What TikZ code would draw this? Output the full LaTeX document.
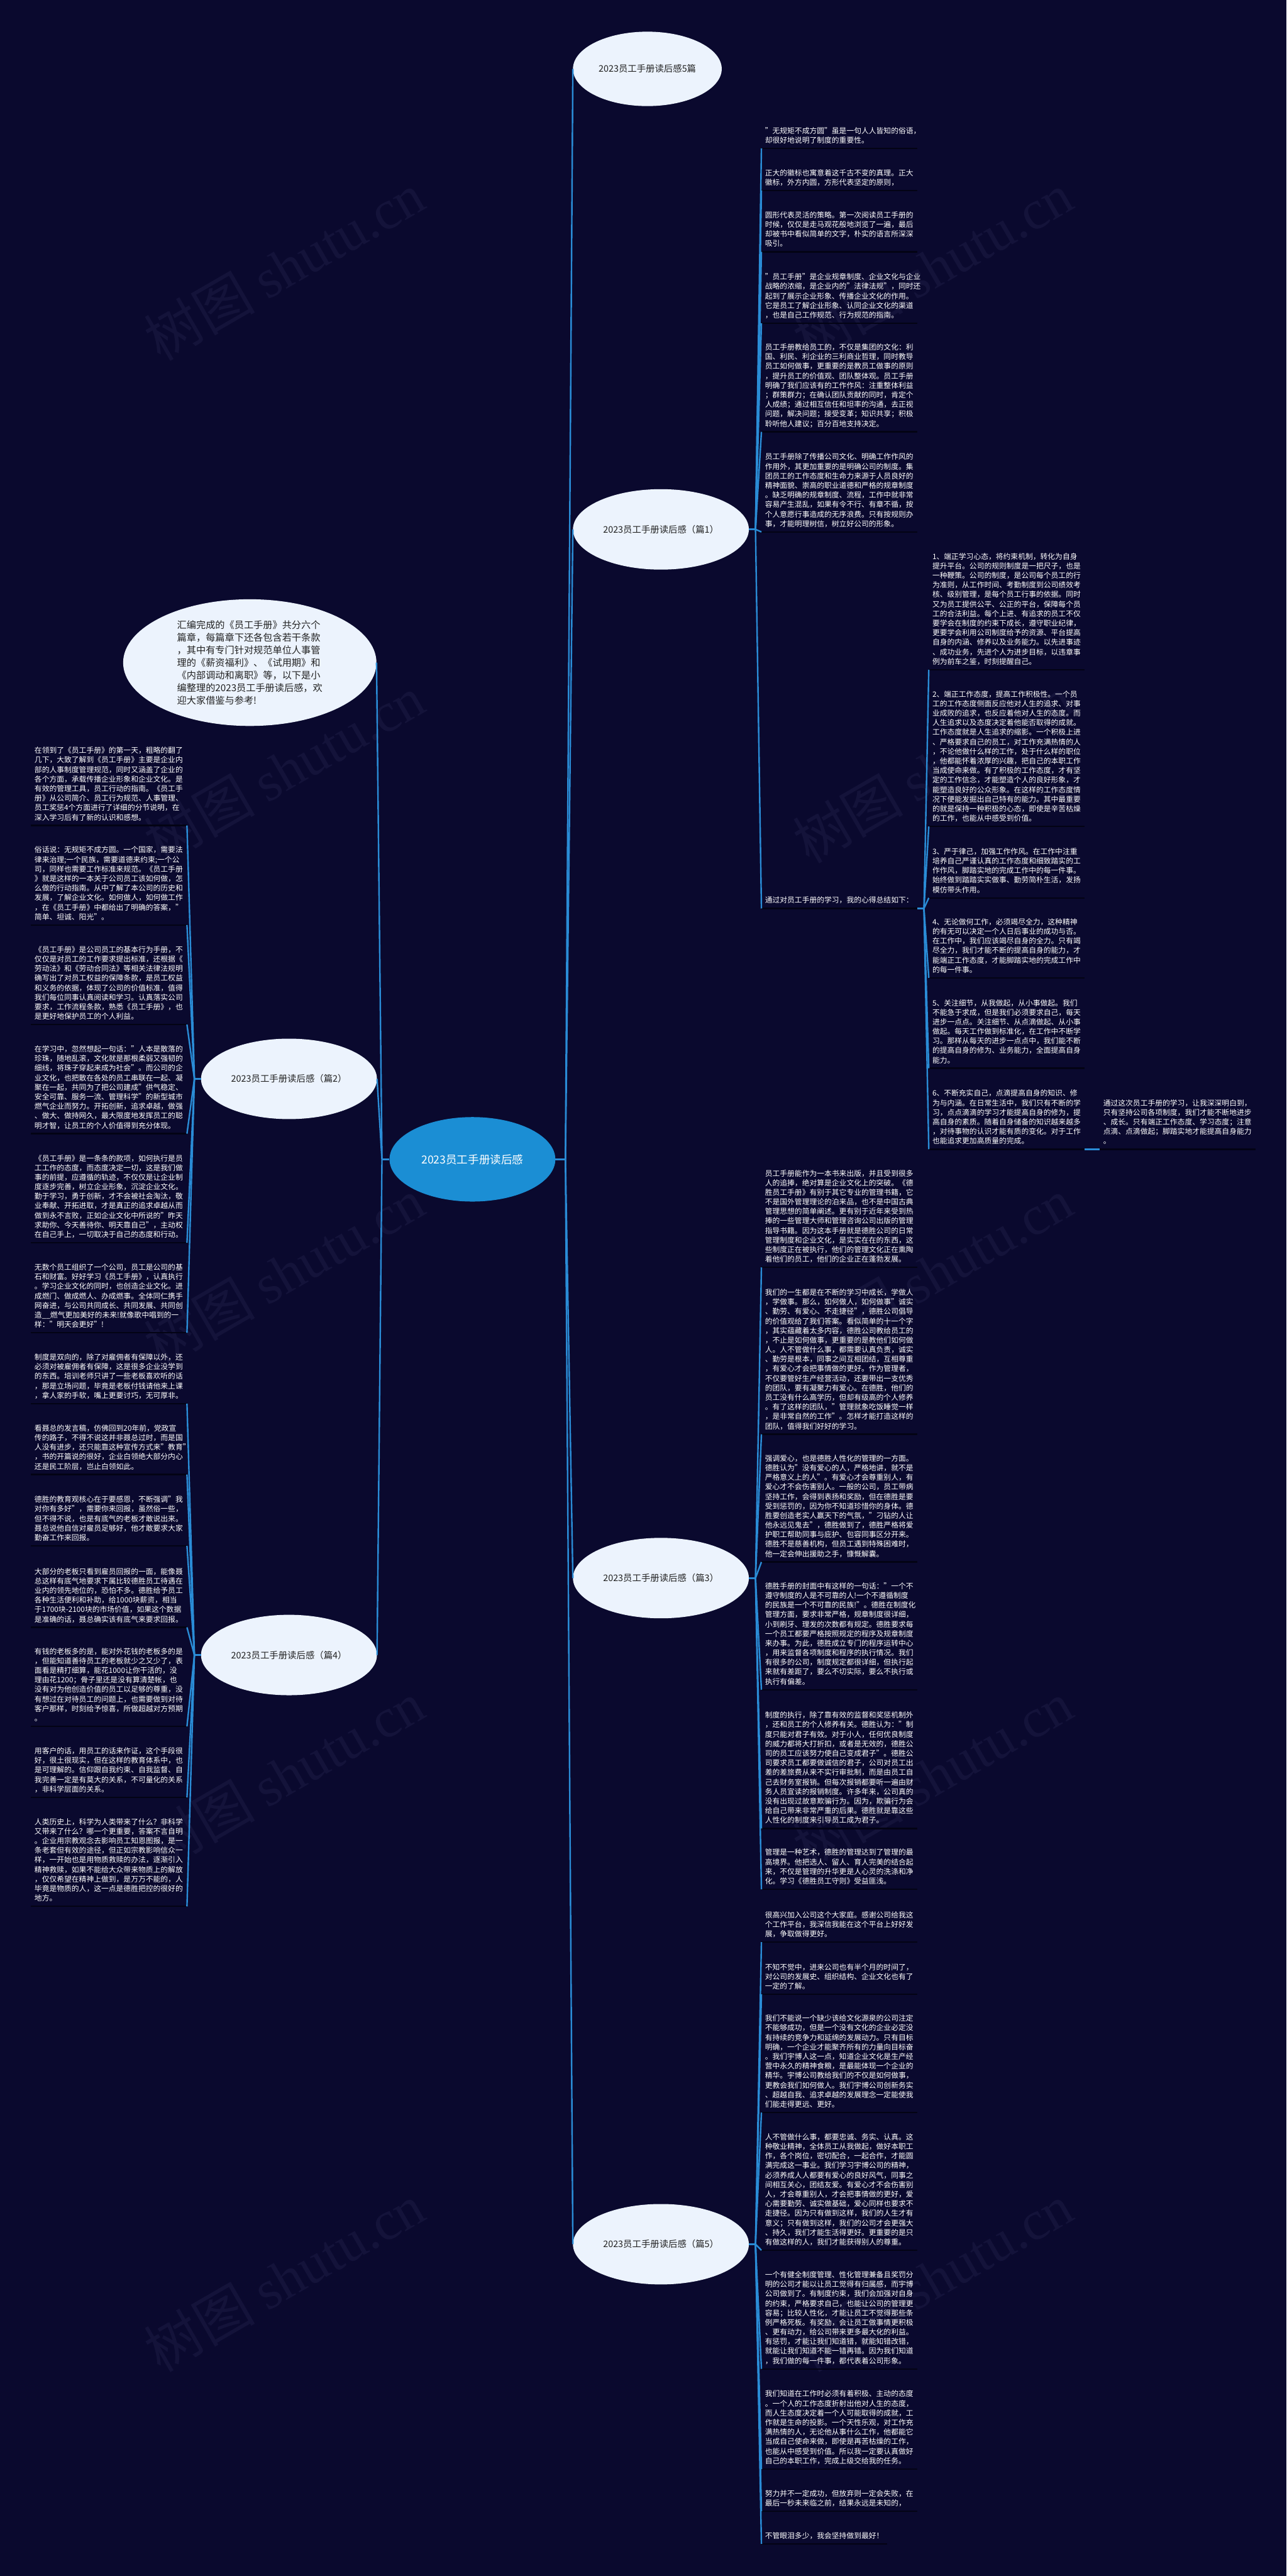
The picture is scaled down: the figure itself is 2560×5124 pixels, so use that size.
\documentclass[tikz,border=0pt]{standalone}
\usepackage{fontspec}
\setmainfont{Noto Sans CJK SC}
\newfontfamily\wmlatin{Liberation Serif}
\usetikzlibrary{shapes.geometric}
\definecolor{bgc}{RGB}{10,9,46}
\definecolor{connc}{RGB}{42,140,214}
\definecolor{ulc}{RGB}{3,3,20}
\definecolor{ellfill}{RGB}{236,243,253}
\definecolor{rootfill}{RGB}{27,142,212}
\definecolor{wmc}{RGB}{20,19,58}
\definecolor{darktext}{RGB}{34,34,34}
\newcommand{\ldep}{\rule[-10.5pt]{0pt}{10.5pt}}
\tikzset{
  leafbase/.style={text=white, font=\fontsize{14.75pt}{19pt}\selectfont, align=left, inner xsep=7pt, inner ysep=0pt},
  leaf/.style={leafbase, text width=296pt},
  rleaf/.style={leaf, anchor=south west},
  lleaf/.style={leaf, anchor=south east},
  topic/.style={ellipse, fill=ellfill, text=darktext, font=\fontsize{18pt}{22pt}\selectfont, inner sep=0pt, minimum width=350pt, minimum height=160pt},
  rootnode/.style={ellipse, fill=rootfill, text=white, font=\fontsize{22pt}{26pt}\selectfont, inner sep=0pt, minimum width=330pt, minimum height=168pt},
  connst/.style={draw=connc, line width=3pt, line join=round},
  uline/.style={draw=ulc, line width=3pt},
  wm/.style={text=wmc, font=\fontsize{110pt}{110pt}\selectfont, rotate=30, anchor=base west, inner sep=0pt},
}
\newcommand{\rleafat}[3]{\node[rleaf] (#1) at (#2) {#3\ldep};\draw[uline] (#1.south west) -- (#1.south east);}
\newcommand{\lleafat}[3]{\node[lleaf] (#1) at (#2) {#3\ldep};\draw[uline] (#1.south west) -- (#1.south east);}
\begin{document}
\begin{tikzpicture}[x=1pt,y=-1pt]
\fill[bgc] (0,0) rectangle (2560,5124);
\useasboundingbox (0,0) rectangle (2560,5124);

% watermarks
\foreach \k [count=\i] in {0,...,4} {
  \node[wm] (wml\i) at (320,720+1000*\k) {树图 {\wmlatin shutu.cn}};
  \node[wm] (wmr\i) at (1610,720+1000*\k) {树图 {\wmlatin shutu.cn}};
}

% main nodes
\node[rootnode] (root) at (940,2306) {2023员工手册读后感};
\node[topic, minimum width=296pt, minimum height=148pt] (five) at (1288,137) {2023员工手册读后感5篇};
\node[topic] (p1) at (1315,1053) {2023员工手册读后感（篇1）};
\node[topic] (p3) at (1315,3139) {2023员工手册读后感（篇3）};
\node[topic] (p5) at (1315,4464) {2023员工手册读后感（篇5）};
\node[topic] (p2) at (575,2146) {2023员工手册读后感（篇2）};
\node[topic] (p4) at (575,3292) {2023员工手册读后感（篇4）};
\node[ellipse, fill=ellfill, text=darktext, font=\fontsize{19pt}{25pt}\selectfont, align=left, inner sep=0pt, minimum width=504pt, minimum height=252pt] (intro) at (497,1318) {汇编完成的《员工手册》共分六个\\篇章，每篇章下还各包含若干条款\\，其中有专门针对规范单位人事管\\理的《薪资福利》、《试用期》和\\《内部调动和离职》等，以下是小\\编整理的2023员工手册读后感，欢\\迎大家借鉴与参考!};

% 篇1 leaves
\rleafat{l1a}{1515,295}{"无规矩不成方圆"虽是一句人人皆知的俗语，\\却很好地说明了制度的重要性。}
\rleafat{l1b}{1515,379}{正大的徽标也寓意着这千古不变的真理。正大\\徽标，外方内圆，方形代表坚定的原则，}
\rleafat{l1c}{1515,501}{圆形代表灵活的策略。第一次阅读员工手册的\\时候，仅仅是走马观花般地浏览了一遍，最后\\却被书中看似简单的文字，朴实的语言所深深\\吸引。}
\rleafat{l1d}{1515,643}{"员工手册"是企业规章制度、企业文化与企业\\战略的浓缩，是企业内的"法律法规"，同时还\\起到了展示企业形象、传播企业文化的作用。\\它是员工了解企业形象、认同企业文化的渠道\\，也是自己工作规范、行为规范的指南。}
\rleafat{l1e}{1515,859}{员工手册教给员工的，不仅是集团的文化：利\\国、利民、利企业的三利商业哲理，同时教导\\员工如何做事，更重要的是教员工做事的原则\\，提升员工的价值观、团队整体观。员工手册\\明确了我们应该有的工作作风：注重整体利益\\；群策群力；在确认团队贡献的同时，肯定个\\人成绩；通过相互信任和坦率的沟通，去正视\\问题，解决问题；接受变革；知识共享；积极\\聆听他人建议；百分百地支持决定。}
\rleafat{l1f}{1515,1058}{员工手册除了传播公司文化、明确工作作风的\\作用外，其更加重要的是明确公司的制度。集\\团员工的工作态度和生命力来源于人员良好的\\精神面貌、崇高的职业道德和严格的规章制度\\。缺乏明确的规章制度、流程，工作中就非常\\容易产生混乱，如果有令不行、有章不循，按\\个人意愿行事造成的无序浪费。只有按规则办\\事，才能明理树信，树立好公司的形象。}
\rleafat{l1g}{1515,1807}{通过对员工手册的学习，我的心得总结如下：}

\rleafat{c1}{1848,1332}{1、端正学习心态，将约束机制，转化为自身\\提升平台。公司的规则制度是一把尺子，也是\\一种鞭策。公司的制度，是公司每个员工的行\\为准则，从工作时间、考勤制度到公司绩效考\\核、级别管理，是每个员工行事的依据。同时\\又为员工提供公平、公正的平台，保障每个员\\工的合法利益。每个上进、有追求的员工不仅\\要学会在制度的约束下成长，遵守职业纪律，\\更要学会利用公司制度给予的资源、平台提高\\自身的内涵、修养以及业务能力。以先进事迹\\、成功业务，先进个人为进步目标，以违章事\\例为前车之鉴，时刻提醒自己。}
\rleafat{c2}{1848,1644}{2、端正工作态度，提高工作积极性。一个员\\工的工作态度侧面反应他对人生的追求、对事\\业成败的追求，也反应着他对人生的态度。而\\人生追求以及态度决定着他能否取得的成就。\\工作态度就是人生追求的缩影。一个积极上进\\、严格要求自己的员工，对工作充满热情的人\\，不论他做什么样的工作，处于什么样的职位\\，他都能怀着浓厚的兴趣，把自己的本职工作\\当成使命来做。有了积极的工作态度，才有坚\\定的工作信念，才能塑造个人的良好形象，才\\能塑造良好的公众形象。在这样的工作态度情\\况下便能发掘出自己特有的能力。其中最重要\\的就是保持一种积极的心态，即使是辛苦枯燥\\的工作，也能从中感受到价值。}
\rleafat{c3}{1848,1786}{3、严于律己，加强工作作风。在工作中注重\\培养自己严谨认真的工作态度和细致踏实的工\\作作风，脚踏实地的完成工作中的每一件事。\\始终做到踏踏实实做事、勤劳简朴生活，发扬\\模仿带头作用。}
\rleafat{c4}{1848,1945}{4、无论做何工作，必须竭尽全力，这种精神\\的有无可以决定一个人日后事业的成功与否。\\在工作中，我们应该竭尽自身的全力。只有竭\\尽全力，我们才能不断的提高自身的能力，才\\能端正工作态度，才能脚踏实地的完成工作中\\的每一件事。}
\rleafat{c5}{1848,2125}{5、关注细节，从我做起，从小事做起。我们\\不能急于求成，但是我们必须要求自己，每天\\进步一点点。关注细节、从点滴做起、从小事\\做起。每天工作做到标准化，在工作中不断学\\习。那样从每天的进步一点点中，我们能不断\\的提高自身的修为、业务能力，全面提高自身\\能力。}
\rleafat{c6}{1848,2286}{6、不断充实自己，点滴提高自身的知识、修\\为与内涵。在日常生活中，我们只有不断的学\\习，点点滴滴的学习才能提高自身的修为，提\\高自身的素质。随着自身储备的知识越来越多\\，对待事物的认识才能有质的变化。对于工作\\也能追求更加高质量的完成。}
\rleafat{c7}{2188,2286}{通过这次员工手册的学习，让我深深明白到，\\只有坚持公司各项制度，我们才能不断地进步\\、成长。只有端正工作态度、学习态度；注意\\点滴、点滴做起；脚踏实地才能提高自身能力\\。}

% 篇3 leaves
\rleafat{t1}{1515,2521}{员工手册能作为一本书来出版，并且受到很多\\人的追捧，绝对算是企业文化上的突破。《德\\胜员工手册》有别于其它专业的管理书籍，它\\不是国外管理理论的泊来品，也不是中国古典\\管理思想的简单阐述。更有别于近年来受到热\\捧的一些管理大师和管理咨询公司出版的管理\\指导书籍。因为这本手册就是德胜公司的日常\\管理制度和企业文化，是实实在在的东西，这\\些制度正在被执行，他们的管理文化正在熏陶\\着他们的员工，他们的企业正在蓬勃发展。}
\rleafat{t2}{1515,2853}{我们的一生都是在不断的学习中成长，学做人\\，学做事。那么，如何做人，如何做事"诚实\\、勤劳、有爱心、不走捷径"，德胜公司倡导\\的价值观给了我们答案。看似简单的十一个字\\，其实蕴藏着太多内容，德胜公司教给员工的\\，不止是如何做事，更重要的是教他们如何做\\人。人不管做什么事，都需要认真负责，诚实\\、勤劳是根本，同事之间互相团结，互相尊重\\，有爱心才会把事情做的更好。作为管理者，\\不仅要管好生产经营活动，还要带出一支优秀\\的团队，要有凝聚力有爱心。在德胜，他们的\\员工没有什么高学历，但却有级高的个人修养\\。有了这样的团队，"管理就象吃饭睡觉一样\\，是非常自然的工作"。怎样才能打造这样的\\团队，值得我们好好的学习。}
\rleafat{t3}{1515,3107}{强调爱心，也是德胜人性化的管理的一方面。\\德胜认为"没有爱心的人，严格地讲，就不是\\严格意义上的人"。有爱心才会尊重别人，有\\爱心才不会伤害别人。一般的公司，员工带病\\坚持工作，会得到表扬和奖励，但在德胜是要\\受到惩罚的，因为你不知道珍惜你的身体。德\\胜要创造老实人赢天下的气氛，"刁钻的人让\\他永远见鬼去"，德胜做到了，德胜严格将爱\\护职工帮助同事与庇护、包容同事区分开来。\\德胜不是慈善机构，但员工遇到特殊困难时，\\他一定会伸出援助之手，慷慨解囊。}
\rleafat{t4}{1515,3361}{德胜手册的封面中有这样的一句话："一个不\\遵守制度的人是不可靠的人!一个不遵循制度\\的民族是一个不可靠的民族!"。德胜在制度化\\管理方面，要求非常严格，规章制度很详细，\\小到刷牙、理发的次数都有规定。德胜要求每\\一个员工都要严格按照规定的程序及规章制度\\来办事。为此，德胜成立专门的程序运转中心\\，用来监督各项制度和程序的执行情况。我们\\有很多的公司，制度规定都很详细，但执行起\\来就有差距了，要么不切实际，要么不执行或\\执行有偏差。}
\rleafat{t5}{1515,3637}{制度的执行，除了靠有效的监督和奖惩机制外\\，还和员工的个人修养有关。德胜认为："制\\度只能对君子有效。对于小人，任何优良制度\\的威力都将大打折扣，或者是无效的，德胜公\\司的员工应该努力使自己变成君子"。德胜公\\司要求员工都要做诚信的君子，公司对员工出\\差的差旅费从来不实行审批制，而是由员工自\\己去财务室报销。但每次报销都要听一遍由财\\务人员宣读的报销制度。许多年来，公司真的\\没有出现过故意欺骗行为。因为，欺骗行为会\\给自己带来非常严重的后果。德胜就是靠这些\\人性化的制度来引导员工成为君子。}
\rleafat{t6}{1515,3758}{管理是一种艺术，德胜的管理达到了管理的最\\高境界。他把选人、留人、育人完美的结合起\\来，不仅是管理的升华更是人心灵的洗涤和净\\化。学习《德胜员工守则》受益匪浅。}

% 篇5 leaves
\rleafat{f1}{1515,3863}{很高兴加入公司这个大家庭。感谢公司给我这\\个工作平台，我深信我能在这个平台上好好发\\展，争取做得更好。}
\rleafat{f2}{1515,3967}{不知不觉中，进来公司也有半个月的时间了，\\对公司的发展史、组织结构、企业文化也有了\\一定的了解。}
\rleafat{f3}{1515,4202}{我们不能说一个缺少该给文化源泉的公司注定\\不能够成功，但是一个没有文化的企业必定没\\有持续的竞争力和延绵的发展动力。只有目标\\明确，一个企业才能聚齐所有的力量向目标奋\\。我们宇博人这一点，知道企业文化是生产经\\营中永久的精神食粮，是最能体现一个企业的\\精华。宇博公司教给我们的不仅是如何做事，\\更教会我们如何做人。我们宇博公司创新务实\\、超越自我、追求卓越的发展理念一定能使我\\们能走得更远、更好。}
\rleafat{f4}{1515,4476}{人不管做什么事，都要忠诚、务实、认真。这\\种敬业精神，全体员工从我做起，做好本职工\\作，各个岗位，密切配合，一起合作，才能圆\\满完成这一事业。我们学习宇博公司的精神，\\必须养成人人都要有爱心的良好风气，同事之\\间相互关心，团结友爱。有爱心才不会伤害别\\人，才会尊重别人，才会把事情做的更好，爱\\心需要勤劳、诚实做基础，爱心同样也要求不\\走捷径。因为只有做到这样，我们的人生才有\\意义；只有做到这样，我们的公司才会更强大\\、持久，我们才能生活得更好。更重要的是只\\有做这样的人，我们才能获得别人的尊重。}
\rleafat{f5}{1515,4712}{一个有健全制度管理、性化管理兼备且奖罚分\\明的公司才能以让员工觉得有归属感，而宇博\\公司做到了。有制度约束，我们会加强对自身\\的约束，严格要求自己，也能让公司的管理更\\容易；比较人性化，才能让员工不觉得那些条\\例严格死板。有奖励，会让员工做事情更积极\\、更有动力，给公司带来更多最大化的利益。\\有惩罚，才能让我们知道错，就能知错改错，\\就能让我们知道不能一错再错。因为我们知道\\，我们做的每一件事，都代表着公司形象。}
\rleafat{f6}{1515,4911}{我们知道在工作时必须有着积极、主动的态度\\。一个人的工作态度折射出他对人生的态度，\\而人生态度决定着一个人可能取得的成就，工\\作就是生命的投影。一个天性乐观，对工作充\\满热情的人，无论他从事什么工作，他都能它\\当成自己使命来做，即使是再苦枯燥的工作，\\也能从中感受到价值。所以我一定要认真做好\\自己的本职工作，完成上级交给我的任务。}
\rleafat{f7}{1515,4995}{努力并不一定成功，但放弃则一定会失败，在\\最后一秒未来临之前，结果永远是未知的，}
\node[leafbase, anchor=south west] (f8) at (1515,5060) {不管眼泪多少，我会坚持做到最好！\ldep};
\draw[uline] (f8.south west) -- (f8.south east);

% 篇2 leaves
\lleafat{b1}{372,1642}{在领到了《员工手册》的第一天，粗略的翻了\\几下，大致了解到《员工手册》主要是企业内\\部的人事制度管理规范，同时又涵盖了企业的\\各个方面，承载传播企业形象和企业文化。是\\有效的管理工具，员工行动的指南。《员工手\\册》从公司简介、员工行为规范、人事管理、\\员工奖惩4个方面进行了详细的分节说明，在\\深入学习后有了新的认识和感想。}
\lleafat{b2}{372,1840}{俗话说：无规矩不成方圆。一个国家，需要法\\律来治理;一个民族，需要道德来约束;一个公\\司，同样也需要工作标准来规范。《员工手册\\》就是这样的一本关于公司员工该如何做，怎\\么做的行动指南。从中了解了本公司的历史和\\发展，了解企业文化。如何做人，如何做工作\\，在《员工手册》中都给出了明确的答案，"\\简单、坦诚、阳光"。}
\lleafat{b3}{372,2038}{《员工手册》是公司员工的基本行为手册，不\\仅仅是对员工的工作要求提出标准，还根据《\\劳动法》和《劳动合同法》等相关法律法规明\\确写出了对员工权益的保障条款，是员工权益\\和义务的依据，体现了公司的价值标准，值得\\我们每位同事认真阅读和学习。认真落实公司\\要求，工作流程条款，熟悉《员工手册》，也\\是更好地保护员工的个人利益。}
\lleafat{b4}{372,2255}{在学习中，忽然想起一句话："人本是散落的\\珍珠，随地乱滚，文化就是那根柔弱又强韧的\\细线，将珠子穿起来成为社会"。而公司的企\\业文化，也把散在各处的员工串联在一起、凝\\聚在一起，共同为了把公司建成"供气稳定、\\安全可靠、服务一流、管理科学"的新型城市\\燃气企业而努力。开拓创新，追求卓越，做强\\、做大、做持网久，最大限度地发挥员工的聪\\明才智，让员工的个人价值得到充分体现。}
\lleafat{b5}{372,2472}{《员工手册》是一条条的款项，如何执行是员\\工工作的态度，而态度决定一切，这是我们做\\事的前提，应遵循的轨迹，不仅仅是让企业制\\度逐步完善，树立企业形象，沉淀企业文化。\\勤于学习，勇于创新，才不会被社会淘汰，敬\\业奉献、开拓进取，才是真正的追求卓越从而\\做到永不言败，正如企业文化中所说的"昨天\\求助你、今天善待你、明天靠自己"，主动权\\在自己手上，一切取决于自己的态度和行动。}
\lleafat{b6}{372,2651}{无数个员工组织了一个公司，员工是公司的基\\石和财富。好好学习《员工手册》，认真执行\\。学习企业文化的同时，也创造企业文化。进\\成燃门、做成燃人、办成燃事。全体同仁携手\\网奋进，与公司共同成长、共同发展、共同创\\造\_\_燃气更加美好的未来!就像歌中唱到的一\\样："明天会更好"!}

% 篇4 leaves
\lleafat{b7}{372,2792}{制度是双向的，除了对雇佣者有保障以外，还\\必须对被雇佣者有保障，这是很多企业没学到\\的东西。培训老师只讲了一些老板喜欢听的话\\，那是立场问题，毕竟是老板付钱请他来上课\\，拿人家的手软，嘴上更要讨巧，无可厚非。}
\lleafat{b8}{372,2933}{看聂总的发言稿，仿佛回到20年前，党政宣\\传的路子，不得不说这并非聂总过时，而是国\\人没有进步，还只能靠这种宣传方式来"教育"\\，书的开篇说的很好，企业白领绝大部分内心\\还是民工阶层，岂止白领如此。}
\lleafat{b9}{372,3075}{德胜的教育观核心在于要感恩，不断强调"我\\对你有多好"，需要你来回报，虽然俗一些，\\但不得不说，也是有底气的老板才敢说出来。\\聂总说他自信对雇员足够好，他才敢要求大家\\勤奋工作来回报。}
\lleafat{b10}{372,3237}{大部分的老板只看到雇员回报的一面，能像聂\\总这样有底气地要求下属比较德胜员工待遇在\\业内的领先地位的，恐怕不多。德胜给予员工\\各种生活便利和补助，给1000块薪资，相当\\于1700块-2100块的市场价值，如果这个数据\\是准确的话，聂总确实该有底气来要求回报。}
\lleafat{b11}{372,3434}{有钱的老板多的是，能对外花钱的老板多的是\\，但能知道善待员工的老板就少之又少了，表\\面看是精打细算，能花1000让你干活的，没\\理由花1200；骨子里还是没有算清楚帐，也\\没有对为他创造价值的员工以足够的尊重，没\\有想过在对待员工的问题上，也需要做到对待\\客户那样，时刻给予惊喜，所做超越对方预期\\。}
\lleafat{b12}{372,3575}{用客户的话，用员工的话来作证，这个手段很\\好，很土很现实，但在这样的教育体系中，也\\是可理解的。信仰跟自我约束、自我监督、自\\我完善一定是有莫大的关系，不可量化的关系\\，非科学层面的关系。}
\lleafat{b13}{372,3792}{人类历史上，科学为人类带来了什么？非科学\\又带来了什么？哪一个更重要，答案不言自明\\。企业用宗教观念去影响员工知恩图报，是一\\条老套但有效的途径，但正如宗教影响信众一\\样，一开始也是用物质救赎的办法，逐渐引入\\精神救赎，如果不能给大众带来物质上的解放\\，仅仅希望在精神上做到，是万万不能的，人\\毕竟是物质的人，这一点是德胜把控的很好的\\地方。}

% connectors
\coordinate (jr) at (1125,2306);
\coordinate (jl) at (760,2306);
\draw[connst] (root.east) -- (jr);
\draw[connst] (root.west) -- (jl);
\foreach \n in {five,p1,p3,p5} \draw[connst] (jr) -- (\n.west);
\foreach \n in {intro,p2,p4} \draw[connst] (jl) -- (\n.east);
\foreach \n in {l1a,l1b,l1c,l1d,l1e,l1f,l1g} \draw[connst] (p1.east) -- ++(13,0) -- (\n.south west);
\foreach \n in {c1,c2,c3,c4,c5,c6} \draw[connst] (l1g.south east) -- ++(13,0) -- (\n.south west);
\draw[connst] (c6.south east) -- (c7.south west);
\foreach \n in {t1,t2,t3,t4,t5,t6} \draw[connst] (p3.east) -- ++(13,0) -- (\n.south west);
\foreach \n in {f1,f2,f3,f4,f5,f6,f7,f8} \draw[connst] (p5.east) -- ++(13,0) -- (\n.south west);
\foreach \n in {b1,b2,b3,b4,b5,b6} \draw[connst] (p2.west) -- ++(-13,0) -- (\n.south east);
\foreach \n in {b7,b8,b9,b10,b11,b12,b13} \draw[connst] (p4.west) -- ++(-13,0) -- (\n.south east);
\end{tikzpicture}
\end{document}
